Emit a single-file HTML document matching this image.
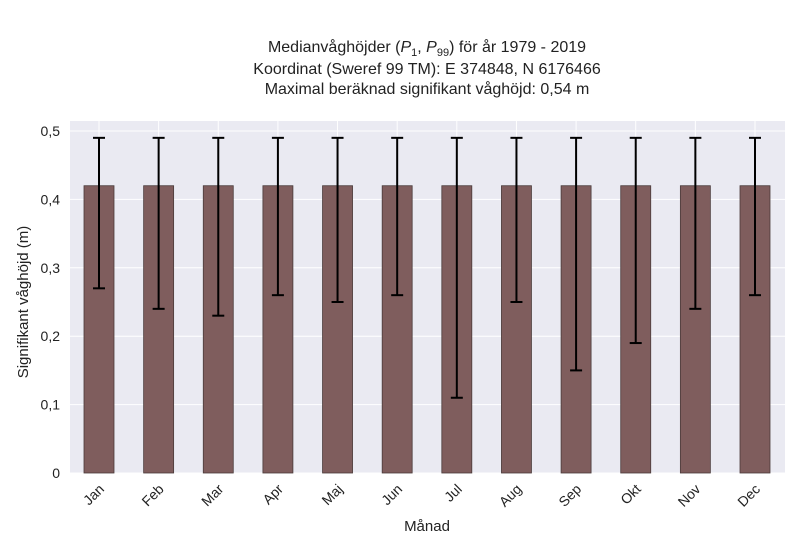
<!DOCTYPE html>
<html><head><meta charset="utf-8"><style>
body{margin:0;background:#fff;}
svg text{font-family:"Liberation Sans",sans-serif;fill:#222;}
</style></head><body>
<svg width="800" height="550" xmlns="http://www.w3.org/2000/svg">
<g>
<text x="427" y="52" font-size="16" text-anchor="middle">Medianvåghöjder (<tspan font-style="italic">P</tspan><tspan font-size="11" dy="4">1</tspan><tspan dy="-4">, </tspan><tspan font-style="italic">P</tspan><tspan font-size="11" dy="4">99</tspan><tspan dy="-4">) för år 1979 - 2019</tspan></text>
<text x="427" y="74" font-size="16" text-anchor="middle">Koordinat (Sweref 99 TM): E 374848, N 6176466</text>
<text x="427" y="94" font-size="16" text-anchor="middle">Maximal beräknad signifikant våghöjd: 0,54 m</text>
</g>
<rect x="70" y="121" width="715" height="352" fill="#eaeaf2"/>
<g id="grid"></g><g id="bars"></g><g id="yt"></g><g id="xt"></g>
<text x="28" y="302" font-size="15" text-anchor="middle" transform="rotate(-90 28 302)">Signifikant våghöjd (m)</text>
<text x="427" y="531" font-size="15" text-anchor="middle">Månad</text>
</svg>
<script>
const months=["Jan","Feb","Mar","Apr","Maj","Jun","Jul","Aug","Sep","Okt","Nov","Dec"];
const medians=[0.42,0.42,0.42,0.42,0.42,0.42,0.42,0.42,0.42,0.42,0.42,0.42];
const p1=[0.27,0.24,0.23,0.26,0.25,0.26,0.11,0.25,0.15,0.19,0.24,0.26];
const p99=[0.49,0.49,0.49,0.49,0.49,0.49,0.49,0.49,0.49,0.49,0.49,0.49];
const yTicks=[0,0.1,0.2,0.3,0.4,0.5];
const yTickLabels=["0","0,1","0,2","0,3","0,4","0,5"];
const NS="http://www.w3.org/2000/svg";
const y=v=>473-v*684;
const x=i=>99+i*(755-99)/11;
function mk(t,a,p){const e=document.createElementNS(NS,t);for(const k in a)e.setAttribute(k,a[k]);p.appendChild(e);return e;}
const g=document.getElementById('grid'),b=document.getElementById('bars'),yt=document.getElementById('yt'),xt=document.getElementById('xt');
yTicks.forEach((v,i)=>{
 const l=mk('line',{x1:70,x2:785,y1:y(v),y2:y(v),stroke:'#fff','stroke-width':1},g);
 
 
 const t=mk('text',{x:60,y:y(v)+5,'font-size':14,'text-anchor':'end'},yt);
 t.textContent=yTickLabels[i];
 
 
});
months.forEach((m,i)=>{
 const gl=mk('line',{x1:x(i),x2:x(i),y1:121,y2:473,stroke:'#fff','stroke-width':1},g);
 
 
 const r=mk('rect',{x:x(i)-15,y:y(medians[i]),width:30,height:473-y(medians[i]),fill:'#7f5d5d',stroke:'#4a3a3a','stroke-width':0.8},b);
 
 
 const e=mk('g',{stroke:'#000','stroke-width':2},b);
 
 
 mk('line',{x1:x(i),x2:x(i),y1:y(p1[i]),y2:y(p99[i])},e);
 mk('line',{x1:x(i)-6,x2:x(i)+6,y1:y(p1[i]),y2:y(p1[i])},e);
 mk('line',{x1:x(i)-6,x2:x(i)+6,y1:y(p99[i]),y2:y(p99[i])},e);
 const t=mk('text',{x:x(i)+6,y:490,'font-size':14,'text-anchor':'end',transform:`rotate(-45 ${x(i)+6} 490)`},xt);
 t.textContent=m;
 
 
});
</script>
</body></html>
